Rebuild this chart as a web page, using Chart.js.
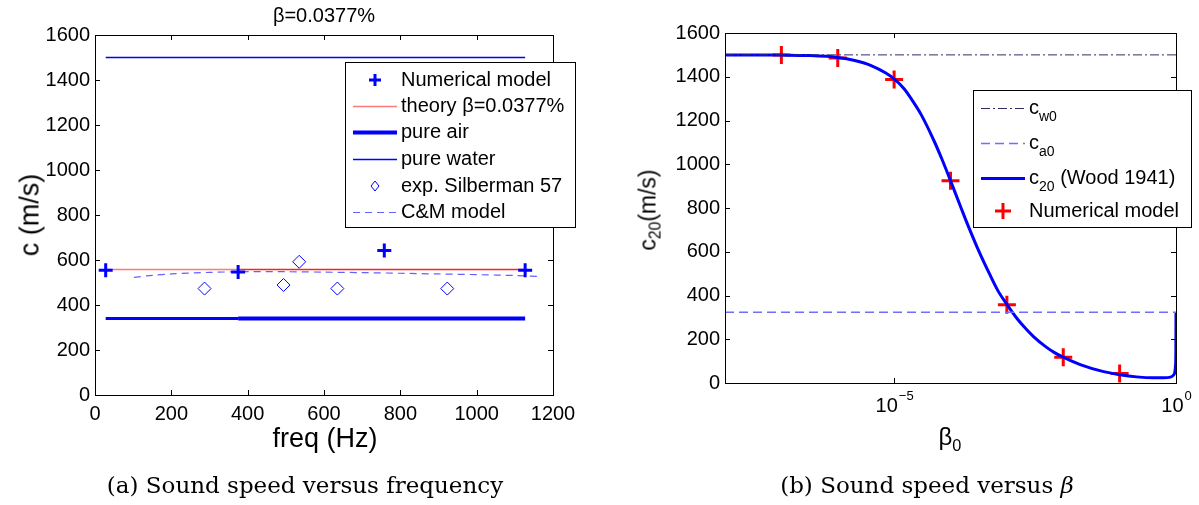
<!DOCTYPE html>
<html><head><meta charset="utf-8">
<script src="https://cdn.jsdelivr.net/npm/chart.js@4"></script>
<style>
body{margin:0;width:1199px;height:505px;background:#fff;position:relative;overflow:hidden;font-family:"Liberation Sans",Arial,sans-serif;color:#000}
.box{position:absolute;top:0;height:505px}
.t{position:absolute;white-space:nowrap;transform:translate(-50%,-50%);line-height:1}
.cap{font-family:"DejaVu Serif",serif;font-size:23px}
sub{font-size:0.68em;vertical-align:-0.35em;line-height:0}
</style></head>
<body>
<div class="box" style="left:0;width:600px"><canvas id="ca"></canvas></div>
<div class="box" style="left:600px;width:599px"><canvas id="cb"></canvas></div>
<div class="t" style="left:324px;top:15px;font-size:20px">β=0.0377%</div>
<div class="t" style="left:30px;top:215px;font-size:27px;transform:translate(-50%,-50%) rotate(-90deg)">c (m/s)</div>
<div class="t" style="left:325px;top:438px;font-size:27px">freq (Hz)</div>
<div class="t cap" style="left:305px;top:485px">(a) Sound speed versus frequency</div>
<div class="t" style="left:648px;top:210px;font-size:23px;transform:translate(-50%,-50%) rotate(-90deg)">c<sub>20</sub>(m/s)</div>
<div class="t" style="left:950px;top:437px;font-size:24px">β<sub>0</sub></div>
<div class="t cap" style="left:927px;top:485px">(b) Sound speed versus <i>β</i></div>
<script>
// ---------- data: left chart (sound speed vs frequency) ----------
const freqNum = [28, 375, 758, 1127];
const cNum = [555, 547, 642, 555];
const freqSpan = [28, 375, 1127];
const cTheory = [558, 558, 558];
const cAir = [340, 340, 340];
const cWater = [1500, 1500, 1500];
const freqExp = [287, 494, 535, 635, 923];
const cExp = [473, 489, 592, 473, 473];
const freqCM = [102, 150, 200, 300, 400, 500, 600, 700, 800, 900, 1000, 1100, 1165];
const cCM = [523, 532, 538, 545, 548, 548, 546, 544, 541, 538, 535, 531, 527];
const freqTicks = [0, 200, 400, 600, 800, 1000, 1200];
const speedTicks = [0, 200, 400, 600, 800, 1000, 1200, 1400, 1600];

// ---------- data: right chart (sound speed vs beta) ----------
const betaWood = [1e-8, 1e-7, 3e-7, 1e-6, 2e-6, 4e-6, 7e-6, 1e-5, 1.5e-5, 2e-5, 3e-5, 5e-5, 7e-5, 1e-4, 1.5e-4, 2e-4, 3e-4, 5e-4, 7e-4, 1e-3, 1.5e-3, 2e-3, 3e-3, 5e-3, 7e-3, 1e-2, 2e-2, 5e-2, 0.1, 0.2, 0.4, 0.6, 0.8, 0.9, 0.95, 0.98, 0.995, 1];
const cWood = [1500, 1499, 1497, 1488, 1474, 1450, 1418, 1390, 1345, 1300, 1228, 1112, 1025, 925, 808, 726, 618, 495, 420, 360, 296, 258, 211, 164, 139, 118, 84, 53, 38, 28, 24, 24, 27, 36, 48, 78, 150, 323];
const betaNum = [1e-7, 1e-6, 1e-5, 1e-4, 1e-3, 1e-2, 1e-1];
const cNumB = [1500, 1486, 1387, 925, 358, 118, 43];
const betaRef = [1e-8, 1];
const cW0 = [1500, 1500];
const cA0 = [323, 323];
const betaTickExp = [-5, 0];

const pts = (xs, ys) => xs.map((x, i) => ({x: x, y: ys[i]}));

Chart.defaults.font.family = '"Liberation Sans", Arial, sans-serif';
Chart.defaults.font.size = 20;
Chart.defaults.color = '#000';

const frame = {
  id: 'frame',
  afterDraw(chart, args, opts) {
    const ctx = chart.ctx, a = chart.chartArea;
    const xs = chart.scales.x, ys = chart.scales.y;
    ctx.save();
    ctx.strokeStyle = '#000'; ctx.lineWidth = 1; ctx.setLineDash([]);
    ctx.strokeRect(Math.round(a.left) + 0.5, Math.round(a.top) + 0.5, Math.round(a.right - a.left), Math.round(a.bottom - a.top));
    const L = 5;
    ctx.beginPath();
    xs.ticks.forEach(t => {
      const p = Math.round(xs.getPixelForValue(t.value)) + 0.5;
      if (p < a.left + 2 || p > a.right - 2) return;
      ctx.moveTo(p, a.bottom); ctx.lineTo(p, a.bottom - L);
      ctx.moveTo(p, a.top); ctx.lineTo(p, a.top + L);
    });
    ys.ticks.forEach(t => {
      const p = Math.round(ys.getPixelForValue(t.value)) + 0.5;
      if (p < a.top + 2 || p > a.bottom - 2) return;
      ctx.moveTo(a.left, p); ctx.lineTo(a.left + L, p);
      ctx.moveTo(a.right, p); ctx.lineTo(a.right - L, p);
    });
    ctx.stroke();
    if (opts.expTicks) {
      opts.expTicks.forEach(e => {
        const px = xs.getPixelForValue(Math.pow(10, e));
        const base = '10', ex = (e < 0 ? '\u2212' : '') + Math.abs(e);
        ctx.font = '20px "Liberation Sans"';
        const w1 = ctx.measureText(base).width;
        ctx.font = '13px "Liberation Sans"';
        const w2 = ctx.measureText(ex).width;
        const x0 = px - (w1 + w2) / 2;
        ctx.fillStyle = '#000'; ctx.textBaseline = 'middle'; ctx.textAlign = 'left';
        ctx.font = '20px "Liberation Sans"';
        ctx.fillText(base, x0, a.bottom + 23);
        ctx.font = '13px "Liberation Sans"';
        ctx.fillText(ex, x0 + w1 + 1, a.bottom + 13);
      });
    }
    const lg = opts.legend;
    if (lg) {
      const x0 = Math.round(a.left + lg.dx), y0 = Math.round(a.top + lg.dy);
      ctx.fillStyle = '#fff'; ctx.fillRect(x0, y0, lg.w, lg.h);
      ctx.strokeStyle = '#000'; ctx.lineWidth = 1;
      ctx.strokeRect(x0 + 0.5, y0 + 0.5, lg.w, lg.h);
      lg.items.forEach((it, i) => {
        const ds = chart.data.datasets[it.ds];
        const cy = y0 + lg.rows[i];
        ctx.save();
        if (it.kind === 'line') {
          ctx.strokeStyle = ds.borderColor; ctx.lineWidth = ds.borderWidth;
          ctx.setLineDash(ds.borderDash || []);
          ctx.beginPath(); ctx.moveTo(x0 + 8, cy + 0.5); ctx.lineTo(x0 + 52, cy + 0.5); ctx.stroke();
        } else {
          const mx = x0 + 30, r = it.r;
          ctx.strokeStyle = ds.pointBorderColor; ctx.lineWidth = ds.pointBorderWidth;
          ctx.beginPath();
          if (it.kind === 'cross') {
            ctx.moveTo(mx - r, cy); ctx.lineTo(mx + r, cy); ctx.moveTo(mx, cy - r); ctx.lineTo(mx, cy + r);
          } else {
            ctx.moveTo(mx, cy - r); ctx.lineTo(mx + r * 0.8, cy); ctx.lineTo(mx, cy + r); ctx.lineTo(mx - r * 0.8, cy); ctx.closePath();
          }
          ctx.stroke();
        }
        ctx.restore();
        let tx = x0 + 56;
        ctx.fillStyle = '#000'; ctx.textBaseline = 'middle'; ctx.textAlign = 'left';
        it.parts.forEach(p => {
          ctx.font = p.sub ? '14px "Liberation Sans"' : '20px "Liberation Sans"';
          ctx.fillText(p.t, tx, cy + (p.sub ? 9 : 0));
          tx += ctx.measureText(p.t).width;
        });
      });
    }
    ctx.restore();
  }
};

const commonScale = (ticksArr, extra) => Object.assign({
  grid: {display: false, drawTicks: false},
  border: {display: false},
  afterBuildTicks: s => { s.ticks = ticksArr.map(v => ({value: v})); }
}, extra);
const plain = v => String(v);

new Chart(document.getElementById('ca'), {
  type: 'line',
  data: {datasets: [
    {label: 'Numerical model', data: pts(freqNum, cNum), showLine: false, pointStyle: 'cross', pointRadius: 7, pointBorderWidth: 3, pointBorderColor: '#0000ff', borderColor: '#0000ff'},
    {label: 'theory β=0.0377%', data: pts(freqSpan, cTheory), borderColor: '#ff7a7a', borderWidth: 1.6, pointRadius: 0,
      segment: {borderColor: c => c.p0DataIndex === 0 ? '#ff7a7a' : '#ff2020'}},
    {label: 'pure air', data: pts(freqSpan, cAir), borderColor: '#0000ff', borderWidth: 4, pointRadius: 0,
      segment: {borderWidth: c => c.p0DataIndex === 0 ? 3 : 4}},
    {label: 'pure water', data: pts(freqSpan, cWater), borderColor: '#0000ff', borderWidth: 1.3, pointRadius: 0},
    {label: 'exp. Silberman 57', data: pts(freqExp, cExp), showLine: false, pointStyle: 'rectRot', pointRadius: 6.5, pointBorderWidth: 1, pointBorderColor: '#0000ff', pointBackgroundColor: 'rgba(0,0,0,0)', borderColor: '#0000ff'},
    {label: 'C&M model', data: pts(freqCM, cCM), borderColor: 'rgba(70,70,255,0.85)', borderWidth: 1.2, borderDash: [7, 5], pointRadius: 0, tension: 0.3}
  ]},
  options: {
    responsive: true, maintainAspectRatio: false, animation: false, devicePixelRatio: 1,
    layout: {padding: {left: 0, right: 47, top: 35, bottom: 0}},
    plugins: {legend: {display: false}, tooltip: {enabled: false}, title: {display: false},
      frame: {legend: {dx: 250, dy: 27, w: 230, h: 165, rows: [18, 44, 70, 97, 124, 150],
        items: [
          {ds: 0, kind: 'cross', r: 6, parts: [{t: 'Numerical model'}]},
          {ds: 1, kind: 'line', parts: [{t: 'theory β=0.0377%'}]},
          {ds: 2, kind: 'line', parts: [{t: 'pure air'}]},
          {ds: 3, kind: 'line', parts: [{t: 'pure water'}]},
          {ds: 4, kind: 'diamond', r: 5, parts: [{t: 'exp. Silberman 57'}]},
          {ds: 5, kind: 'line', parts: [{t: 'C&M model'}]}
        ]}}},
    scales: {
      x: commonScale(freqTicks, {type: 'linear', min: 0, max: 1200, ticks: {padding: 7, maxRotation: 0, autoSkip: false, callback: plain}, afterFit: s => { s.height = 110; }}),
      y: commonScale(speedTicks, {type: 'linear', min: 0, max: 1600, ticks: {padding: 5, autoSkip: false, callback: plain}, afterFit: s => { s.width = 95; }})
    }
  },
  plugins: [frame]
});

new Chart(document.getElementById('cb'), {
  type: 'line',
  data: {datasets: [
    {label: 'cw0', data: pts(betaRef, cW0), borderColor: 'rgb(45,45,100)', borderWidth: 1, borderDash: [9, 3, 2, 3], pointRadius: 0},
    {label: 'ca0', data: pts(betaRef, cA0), borderColor: 'rgb(110,110,255)', borderWidth: 1.5, borderDash: [9, 5], pointRadius: 0},
    {label: 'c20 (Wood 1941)', data: pts(betaWood, cWood), borderColor: '#0000ff', borderWidth: 3, pointRadius: 0, cubicInterpolationMode: 'monotone'},
    {label: 'Numerical model', data: pts(betaNum, cNumB), showLine: false, pointStyle: 'cross', pointRadius: 9, pointBorderWidth: 3, pointBorderColor: '#ff0000', borderColor: '#ff0000'}
  ]},
  options: {
    responsive: true, maintainAspectRatio: false, animation: false, devicePixelRatio: 1,
    layout: {padding: {left: 0, right: 23, top: 33, bottom: 0}},
    plugins: {legend: {display: false}, tooltip: {enabled: false}, title: {display: false},
      frame: {expTicks: betaTickExp, legend: {dx: 248, dy: 57, w: 218, h: 137, rows: [18, 53, 88, 121],
        items: [
          {ds: 0, kind: 'line', parts: [{t: 'c'}, {t: 'w0', sub: true}]},
          {ds: 1, kind: 'line', parts: [{t: 'c'}, {t: 'a0', sub: true}]},
          {ds: 2, kind: 'line', parts: [{t: 'c'}, {t: '20', sub: true}, {t: ' (Wood 1941)'}]},
          {ds: 3, kind: 'cross', r: 8, parts: [{t: 'Numerical model'}]}
        ]}}},
    scales: {
      x: commonScale(betaTickExp.map(e => Math.pow(10, e)), {type: 'logarithmic', min: 1e-8, max: 1, ticks: {display: false}, afterFit: s => { s.height = 122; }}),
      y: commonScale(speedTicks, {type: 'linear', min: 0, max: 1600, ticks: {padding: 5, autoSkip: false, callback: plain}, afterFit: s => { s.width = 125; }})
    }
  },
  plugins: [frame]
});
</script>
</body></html>
